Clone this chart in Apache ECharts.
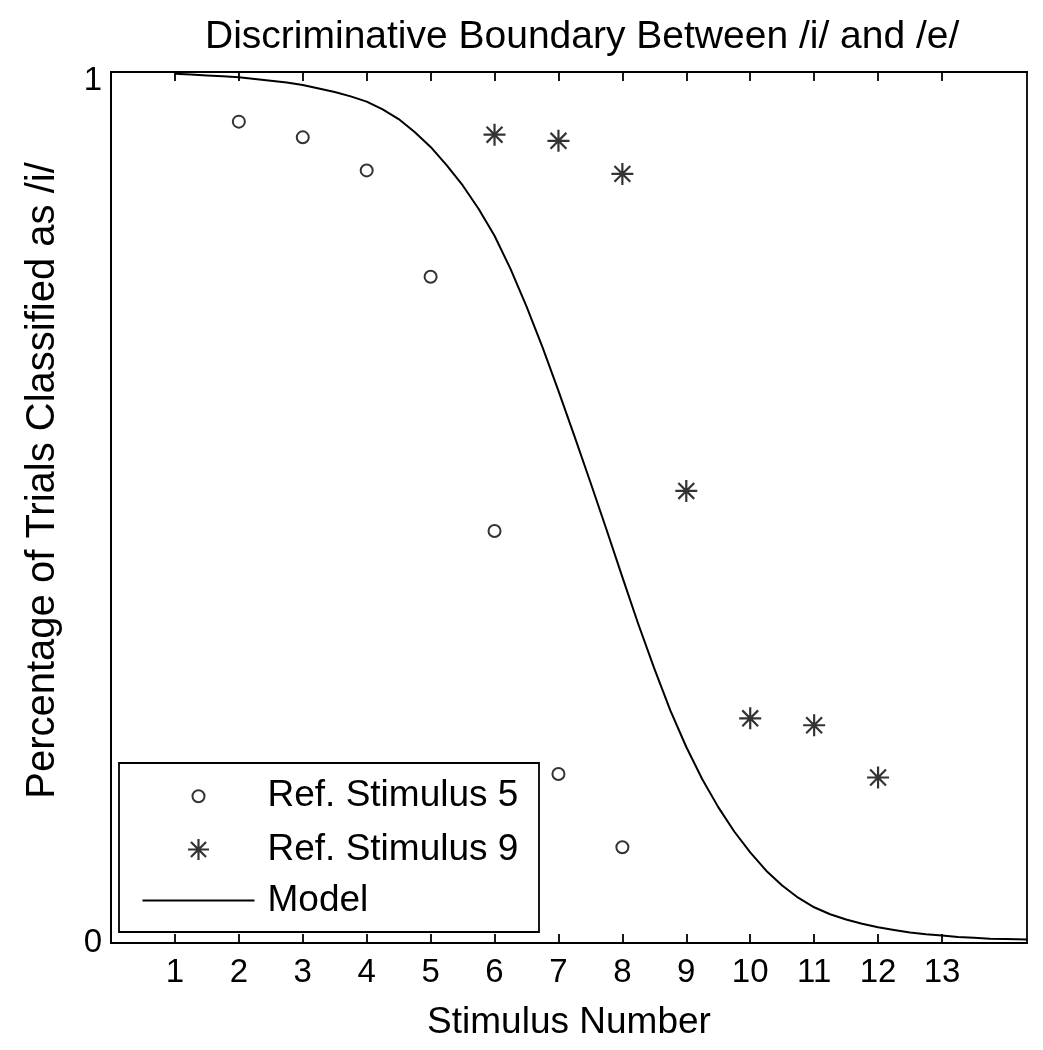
<!DOCTYPE html>
<html>
<head>
<meta charset="utf-8">
<script src="https://cdn.jsdelivr.net/npm/echarts@6/dist/echarts.min.js"></script>
<style>
html,body{margin:0;padding:0;background:#fff;}
#chart{width:1043px;height:1050px;}
</style>
</head>
<body>
<div id="chart"></div>
<script>
// ---- Data ----
var titleText = 'Discriminative Boundary Between /i/ and /e/';
var xAxisName = 'Stimulus Number';
var yAxisName = 'Percentage of Trials Classified as /i/';
var xTickLabels = [1,2,3,4,5,6,7,8,9,10,11,12,13];
var yTickLabels = [0,1];

var ref5Stimulus = [2,3,4,5,6,7,8];
var ref5Values   = [0.943,0.925,0.887,0.765,0.473,0.194,0.110];

var ref9Stimulus = [6,7,8,9,10,11,12];
var ref9Values   = [0.928,0.921,0.883,0.519,0.258,0.250,0.190];

var modelX = [1.00,1.25,1.50,1.75,2.00,2.25,2.50,2.75,3.00,3.25,3.50,3.75,4.00,4.25,4.50,4.75,
              5.00,5.25,5.50,5.75,6.00,6.25,6.50,6.75,7.00,7.25,7.50,7.75,8.00,8.25,8.50,8.75,
              9.00,9.25,9.50,9.75,10.00,10.25,10.50,10.75,11.00,11.25,11.50,11.75,12.00,12.25,
              12.50,12.75,13.00,13.25,13.50,13.75,14.00,14.33];
var modelY = [0.998,0.997,0.996,0.995,0.994,0.992,0.990,0.988,0.985,0.981,0.977,0.972,0.966,0.957,0.946,0.931,
              0.914,0.893,0.870,0.843,0.812,0.774,0.731,0.684,0.634,0.582,0.529,0.475,0.420,0.366,0.315,0.267,
              0.225,0.188,0.156,0.128,0.104,0.083,0.066,0.052,0.041,0.033,0.027,0.022,0.018,0.015,
              0.012,0.010,0.0085,0.007,0.006,0.005,0.0045,0.0039];

var seriesNames = ['Ref. Stimulus 5','Ref. Stimulus 9','Model'];

// ---- Build ----
function zip(a,b){ var out=[]; for(var i=0;i<a.length;i++) out.push([a[i],b[i]]); return out; }

var FONT = 'Liberation Sans, Arial, Helvetica, sans-serif';
var STAR = 'path://M0,-10L0,10M-10,0L10,0M-7.2,-7.2L7.2,7.2M-7.2,7.2L7.2,-7.2';
var LW = 1.8;
var MW = 2;
var SW = 2.2;

var chart = echarts.init(document.getElementById('chart'), null, {renderer:'canvas'});

var option = {
  backgroundColor: '#fff',
  animation: false,
  title: {
    text: titleText,
    left: 200, top: 13,
    textStyle: { fontFamily: FONT, fontSize: 39, fontWeight: 'normal', color: '#000' }
  },
  grid: {
    left: 111, right: 16, top: 72, bottom: 107,
    show: true, borderColor: '#000', borderWidth: LW, backgroundColor: 'transparent'
  },
  graphic: [{
    type: 'rect', z: 3,
    shape: { x: 119, y: 763, width: 420, height: 169 },
    style: { fill: '#fff', stroke: '#000', lineWidth: LW }
  }],
  legend: [{
    data: [{ name: seriesNames[0], icon: 'circle',
             itemStyle: { color: 'rgba(0,0,0,0)', borderColor: '#000', borderWidth: MW } }],
    orient: 'vertical', left: 191.5, top: 777.7, padding: 0,
    itemWidth: 112, itemHeight: 12, z: 5,
    selectedMode: false,
    textStyle: { fontFamily: FONT, fontSize: 37, color: '#000', padding: [0,0,0,8] }
  },{
    data: [{ name: seriesNames[1], icon: STAR,
             itemStyle: { color: 'rgba(0,0,0,0)', borderColor: '#000', borderWidth: SW } },
           { name: seriesNames[2],
             itemStyle: { color: 'rgba(0,0,0,0)', borderColor: 'rgba(0,0,0,0)', borderWidth: 0, opacity: 0 },
             lineStyle: { color: '#000', width: 2 } }],
    orient: 'vertical', left: 141.5, top: 831, padding: 0,
    itemWidth: 112, itemHeight: 21, itemGap: 14, z: 5,
    selectedMode: false,
    textStyle: { fontFamily: FONT, fontSize: 37, color: '#000', padding: [0,0,0,8] }
  }],
  xAxis: [{
    type: 'value', min: 0, max: 14.33, interval: 1,
    name: xAxisName, nameLocation: 'middle', nameGap: 61,
    nameTextStyle: { fontFamily: FONT, fontSize: 37, color: '#000' },
    axisLine: { show: true, onZero: false, lineStyle: { color: '#000', width: LW } },
    axisTick: { show: true, inside: true, length: 9, customValues: xTickLabels, lineStyle: { color: '#000', width: LW } },
    axisLabel: { show: true, customValues: xTickLabels, margin: 13, fontFamily: FONT, fontSize: 33, color: '#000' },
    splitLine: { show: false }
  },{
    type: 'value', min: 0, max: 14.33, interval: 1, position: 'top',
    axisLine: { show: true, onZero: false, lineStyle: { color: '#000', width: LW } },
    axisTick: { show: true, inside: true, length: 9, customValues: xTickLabels, lineStyle: { color: '#000', width: LW } },
    axisLabel: { show: false },
    splitLine: { show: false }
  }],
  yAxis: [{
    type: 'value', min: 0, max: 1, interval: 1,
    name: yAxisName, nameLocation: 'middle', nameGap: 48,
    nameTextStyle: { fontFamily: FONT, fontSize: 40, color: '#000', padding: [0,0,0,54] },
    axisLine: { show: true, onZero: false, lineStyle: { color: '#000', width: LW } },
    axisTick: { show: false },
    axisLabel: {
      show: true, customValues: yTickLabels, margin: 9, color: '#000',
      formatter: function(v){ return v === 1 ? '{top|1}' : '{bot|0}'; },
      rich: {
        top: { fontFamily: FONT, fontSize: 33, color: '#000', padding: [18,0,0,0] },
        bot: { fontFamily: FONT, fontSize: 33, color: '#000' }
      }
    },
    splitLine: { show: false }
  }],
  series: [{
    name: seriesNames[0], type: 'scatter',
    data: zip(ref5Stimulus, ref5Values),
    symbol: 'circle', symbolSize: 12,
    itemStyle: { color: 'rgba(0,0,0,0)', borderColor: '#000', borderWidth: MW }
  },{
    name: seriesNames[1], type: 'scatter',
    data: zip(ref9Stimulus, ref9Values),
    symbol: STAR, symbolSize: 22,
    itemStyle: { color: 'rgba(0,0,0,0)', borderColor: '#000', borderWidth: SW }
  },{
    name: seriesNames[2], type: 'line',
    data: zip(modelX, modelY),
    showSymbol: false, symbol: 'none', smooth: false,
    lineStyle: { color: '#000', width: 2, join: 'round' },
    itemStyle: { color: '#000' }
  }]
};
chart.setOption(option);
</script>
</body>
</html>
